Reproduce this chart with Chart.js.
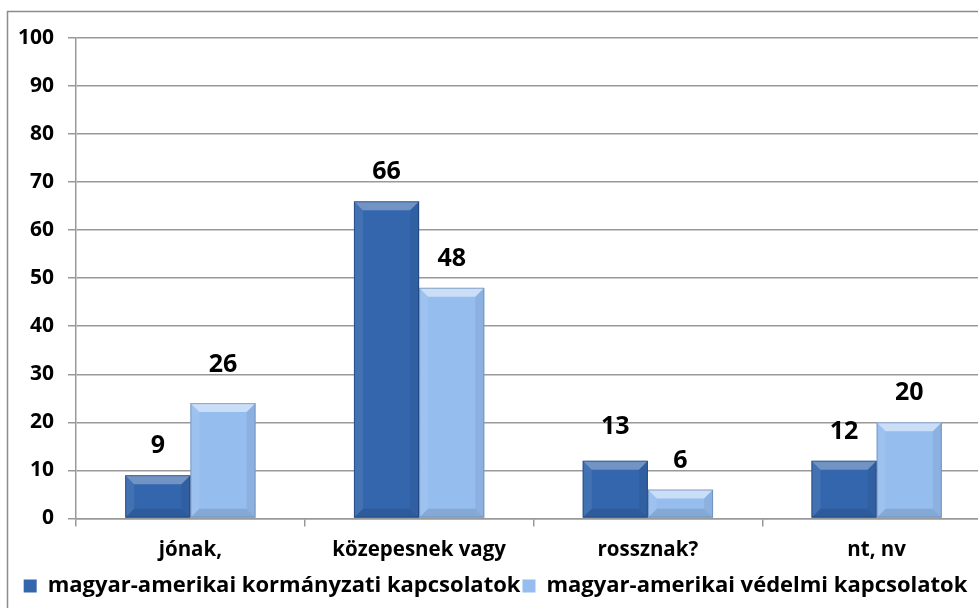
<!DOCTYPE html>
<html>
<head>
    <meta charset="utf-8">
    <title>magyar-amerikai kapcsolatok</title>
    <script src="https://cdn.jsdelivr.net/npm/chart.js"></script>
    <style>
        body { margin: 0; overflow: hidden; background: #fff; }
        #wrap { position: absolute; left: 0; top: 0; width: 1000px; height: 608px; }
    </style>
</head>
<body>
    <div id="wrap"><canvas id="barChart"></canvas></div>

    <script>
        // data
        const categories = ['jónak,', 'közepesnek vagy', 'rossznak?', 'nt, nv'];
        const seriesNames = ['magyar-amerikai kormányzati kapcsolatok', 'magyar-amerikai védelmi kapcsolatok'];
        const governmentValues = [9, 66, 12, 12];
        const defenceValues = [24, 48, 6, 20];
        // the printed labels do not always match the bar heights
        const governmentLabels = [9, 66, 13, 12];
        const defenceLabels = [26, 48, 6, 20];
        const yTicks = [0, 10, 20, 30, 40, 50, 60, 70, 80, 90, 100];

        const FONT = '"Open Sans", sans-serif';
        const darkBlue = '#3466ad';
        const lightBlue = '#95bdee';

        // outer frame of the chart
        const framePlugin = {
            id: 'frame',
            beforeDraw(chart) {
                const ctx = chart.ctx;
                ctx.save();
                ctx.strokeStyle = '#8c8c8c';
                ctx.lineWidth = 1.5;
                ctx.strokeRect(7.5, 11.5, chart.width + 20, chart.height + 20);
                ctx.restore();
            }
        };

        // bevel look + value labels
        const bevelPlugin = {
            id: 'bevel',
            afterDatasetsDraw(chart) {
                const ctx = chart.ctx;
                const yScale = chart.scales.y;
                const labelSets = [governmentLabels, defenceLabels];
                chart.data.datasets.forEach((ds, di) => {
                    const meta = chart.getDatasetMeta(di);
                    meta.data.forEach((bar, i) => {
                        const l = bar.x - bar.width / 2, r = bar.x + bar.width / 2;
                        const t = bar.y, btm = bar.base;
                        const b = Math.min(9, (btm - t) / 2);
                        ctx.save();
                        const poly = (pts, fill) => {
                            ctx.beginPath();
                            ctx.moveTo(pts[0][0], pts[0][1]);
                            pts.slice(1).forEach(p => ctx.lineTo(p[0], p[1]));
                            ctx.closePath();
                            ctx.fillStyle = fill;
                            ctx.fill();
                        };
                        poly([[l, t], [r, t], [r - b, t + b], [l + b, t + b]], di === 0 ? 'rgba(255,255,255,0.30)' : 'rgba(255,255,255,0.50)');
                        poly([[l, t], [l + b, t + b], [l + b, btm - b], [l, btm]], 'rgba(255,255,255,0.08)');
                        poly([[r, t], [r - b, t + b], [r - b, btm - b], [r, btm]], 'rgba(0,0,0,0.06)');
                        poly([[l, btm], [l + b, btm - b], [r - b, btm - b], [r, btm]], 'rgba(0,0,0,0.10)');
                        ctx.strokeStyle = di === 0 ? 'rgba(20,50,100,0.55)' : 'rgba(90,120,160,0.55)';
                        ctx.lineWidth = 1;
                        ctx.strokeRect(l + 0.5, t + 0.5, r - l - 1, btm - t - 1);

                        const lbl = labelSets[di][i];
                        ctx.fillStyle = '#000';
                        ctx.font = 'bold 25px ' + FONT;
                        ctx.textAlign = 'center';
                        ctx.textBaseline = 'middle';
                        ctx.fillText(String(lbl), bar.x, yScale.getPixelForValue(lbl) - 29);
                        ctx.restore();
                    });
                });
            }
        };

        const ctx = document.getElementById('barChart').getContext('2d');
        const myChart = new Chart(ctx, {
            type: 'bar',
            data: {
                labels: categories,
                datasets: [{
                    label: seriesNames[0],
                    data: governmentValues,
                    backgroundColor: darkBlue,
                    categoryPercentage: 0.57,
                    barPercentage: 1.0
                }, {
                    label: seriesNames[1],
                    data: defenceValues,
                    backgroundColor: lightBlue,
                    categoryPercentage: 0.57,
                    barPercentage: 1.0
                }]
            },
            options: {
                responsive: true,
                maintainAspectRatio: false,
                animation: false,
                layout: { padding: { top: 38, left: 0, right: 9, bottom: 1 } },
                plugins: {
                    tooltip: { enabled: false },
                    legend: {
                        position: 'bottom',
                        labels: {
                            color: '#000',
                            font: { family: FONT, size: 22, weight: 'bold' },
                            boxWidth: 13,
                            boxHeight: 13,
                            padding: 2
                        }
                    }
                },
                scales: {
                    x: {
                        grid: {
                            offset: true,
                            drawOnChartArea: false,
                            drawTicks: true,
                            tickLength: 8,
                            color: '#999',
                            lineWidth: 1.5
                        },
                        border: { display: true, color: '#999', width: 1.5 },
                        ticks: {
                            color: '#000',
                            padding: 11,
                            font: { family: FONT, size: 20.5, weight: 'bold' }
                        }
                    },
                    y: {
                        min: 0,
                        max: 100,
                        afterFit(scale) { scale.width = 76; },
                        afterBuildTicks(scale) { scale.ticks = yTicks.map(v => ({ value: v })); },
                        grid: {
                            color: '#999',
                            lineWidth: 1.5,
                            tickLength: 8
                        },
                        border: { display: true, color: '#999', width: 1.5 },
                        ticks: {
                            color: '#000',
                            padding: 14,
                            font: { family: FONT, size: 21, weight: 'bold' }
                        }
                    }
                }
            },
            plugins: [framePlugin, bevelPlugin]
        });
    </script>
</body>
</html>
